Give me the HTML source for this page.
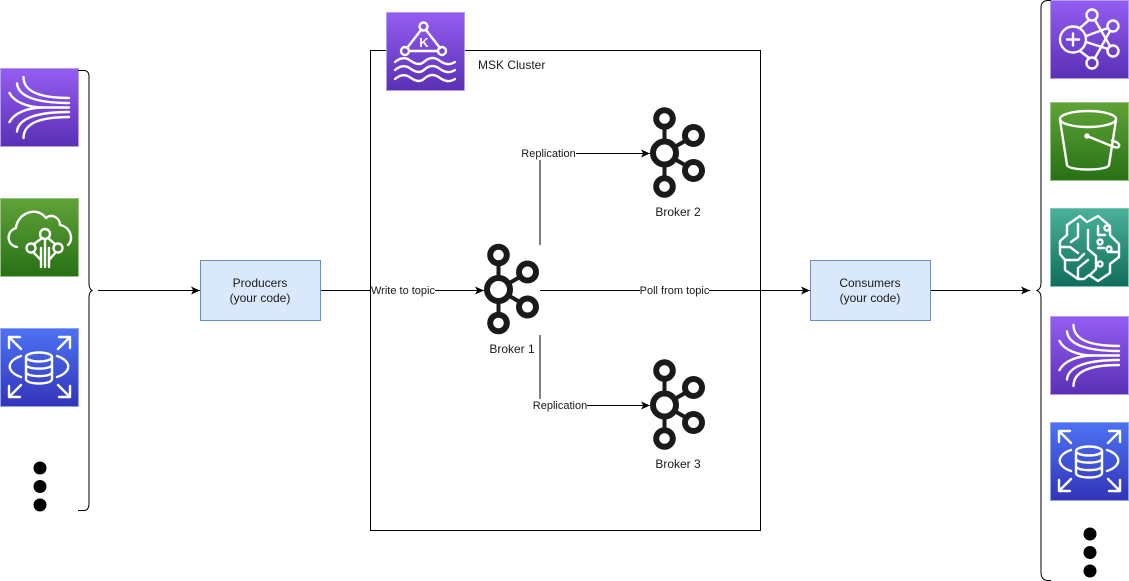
<!DOCTYPE html>
<html><head><meta charset="utf-8"><title>MSK architecture</title>
<style>
html,body{margin:0;padding:0;background:#fff}
svg{display:block}
text{font-family:"Liberation Sans",Arial,sans-serif;fill:#1a1a1a}
.i{fill:none;stroke:#fff;stroke-width:2.400;stroke-linecap:round;stroke-linejoin:round}
.c{fill:none;stroke:#000;stroke-width:1}
</style></head><body>
<svg width="1129" height="581" viewBox="0 0 1129 581" xmlns="http://www.w3.org/2000/svg">
<defs>
<linearGradient id="p" x1="0" y1="0" x2="0" y2="1"><stop offset="0" stop-color="#945df2"/><stop offset="1" stop-color="#5a30b5"/></linearGradient>
<linearGradient id="g" x1="0" y1="0" x2="0" y2="1"><stop offset="0" stop-color="#60a337"/><stop offset="1" stop-color="#277116"/></linearGradient>
<linearGradient id="t" x1="0" y1="0" x2="0" y2="1"><stop offset="0" stop-color="#4ab29a"/><stop offset="1" stop-color="#116d5b"/></linearGradient>
<linearGradient id="b" x1="0" y1="0" x2="0" y2="1"><stop offset="0" stop-color="#4d72f3"/><stop offset="1" stop-color="#3334b9"/></linearGradient>
<marker id="a" markerWidth="10" markerHeight="8" refX="9" refY="4" orient="auto" markerUnits="userSpaceOnUse"><path d="M0 0L9 4L0 8L2.200 4Z" fill="#000"/></marker>

<g id="kin">
<rect x=".5" y=".5" width="78" height="78" fill="url(#p)" stroke="#b49cf0"/>
<g class="i">
<path d="M23.500 9C23.500 22 36 30 69 30"/><path d="M17 15.500C18 27 33 35 69 35"/><path d="M9.500 25C14 34 28 39.500 43 39.500H69"/>
<path d="M23.500 70C23.500 57 36 49 69 49"/><path d="M17 63.500C18 52 33 44 69 44"/><path d="M9.500 54C14 45 28 39.500 43 39.500"/>
</g></g>

<g id="rds">
<rect x=".5" y=".5" width="78" height="78" fill="url(#b)" stroke="#8fa4f5"/>
<g class="i">
<ellipse cx="39" cy="29" rx="13" ry="4.500"/>
<path d="M26 29V51C26 57 52 57 52 51V29"/><path d="M26 36.500C26 42 52 42 52 36.500"/><path d="M26 44C26 49.500 52 49.500 52 44"/>
<path d="M21 28C6 33 6 44 21 49"/><path d="M57 28C72 33 72 44 57 49"/>
<path d="M21 21L9 9M9 20V9H20"/><path d="M58 21L70 9M59 9H70V20"/>
<path d="M21 57L9 69M9 58V69H20"/><path d="M58 57L70 69M70 58V69H59"/>
</g></g>

<g id="kaf" fill="none" stroke="#1a1a1a">
<g stroke-width="4"><path d="M0 -26V26M10 -6L24 -14M10 6L24 14"/></g>
<g stroke-width="6" fill="#fff">
<circle cx="0" cy="0" r="11.500"/><circle cx="0" cy="-34.500" r="8.300"/><circle cx="0" cy="33.500" r="8.300"/><circle cx="29" cy="-17.500" r="8.500"/><circle cx="29" cy="17.500" r="8.500"/>
</g></g>

<g id="dots" fill="#000"><circle cx="0" cy="0" r="6.500"/><circle cx="0" cy="18.500" r="6.500"/><circle cx="0" cy="37" r="6.500"/></g>
</defs>

<!-- cluster -->
<rect x="370.500" y="50.500" width="390" height="480" fill="#fff" stroke="#000"/>

<!-- left column -->
<use href="#kin" x="0" y="68"/>
<g transform="translate(0,198)">
<rect x=".5" y=".5" width="78" height="78" fill="url(#g)" stroke="#98c283"/>
<g class="i">
<path d="M17 49C6 47 6 33 16 30C17 16 36 7 46 20C52 15 60 20 60 27C71 29 74 42 68 47"/>
<path d="M42 40L34 46M48 40L55 46M33 54L41 62M56 54L49 62"/>
<circle cx="45" cy="36" r="5"/><circle cx="31" cy="50" r="4.500"/><circle cx="58" cy="50" r="4.500"/>
<path d="M45 41V69M41 50V69M49 50V69"/>
</g></g>
<use href="#rds" x="0" y="328"/>
<use href="#dots" x="40" y="468"/>
<path class="c" d="M78 70.500H84Q89 70.500 89 77V283Q89 289 92 290.500Q89 292 89 298V503Q89 510.500 84 510.500H78"/>

<!-- MSK icon -->
<g transform="translate(386,12)">
<rect x=".5" y=".5" width="78" height="78" fill="url(#p)" stroke="#b49cf0"/>
<g class="i">
<path d="M35 18L21 36M40 18L54 36M24 39H52"/>
<circle cx="37.500" cy="14.500" r="4"/><circle cx="19" cy="39" r="4"/><circle cx="56" cy="39" r="4"/>
<path d="M9 50C15 45 20 45 25 49C31 53 35 53 39 49C44 45 49 45 54 49C60 53 64 53 69 50"/>
<path d="M9 58C15 53 20 53 25 57C31 61 35 61 39 57C44 53 49 53 54 57C60 61 64 61 69 58"/>
<path d="M9 67C15 62 20 62 25 66C31 70 35 70 39 66C44 62 49 62 54 66C60 70 64 70 69 67"/>
</g>
<text x="38" y="35" text-anchor="middle" font-size="13" font-weight="bold" style="fill:#fff">K</text>
</g>
<text x="478" y="69" font-size="12">MSK Cluster</text>

<!-- brokers -->
<use href="#kaf" x="498.500" y="289.500"/>
<use href="#kaf" x="664.500" y="153"/>
<use href="#kaf" x="664.500" y="405"/>
<text x="512" y="353" font-size="12" text-anchor="middle">Broker 1</text>
<text x="678" y="216" font-size="12" text-anchor="middle">Broker 2</text>
<text x="678" y="468" font-size="12" text-anchor="middle">Broker 3</text>

<!-- connectors -->
<path class="c" d="M98 290.500H200" marker-end="url(#a)"/>
<path class="c" d="M320 290.500H484" marker-end="url(#a)"/>
<path class="c" d="M540 290.500H810" marker-end="url(#a)"/>
<path class="c" d="M930 290.500H1030" marker-end="url(#a)"/>
<path class="c" d="M540 245V153.500H650" marker-end="url(#a)"/>
<path class="c" d="M540 335V405.500H650" marker-end="url(#a)"/>

<!-- boxes -->
<rect x="200.500" y="260.500" width="120" height="60" fill="#dae8fc" stroke="#6c8ebf"/>
<text x="260" y="287" font-size="12" text-anchor="middle">Producers</text>
<text x="260" y="302" font-size="12" text-anchor="middle">(your code)</text>
<rect x="810.500" y="260.500" width="120" height="60" fill="#dae8fc" stroke="#6c8ebf"/>
<text x="870" y="287" font-size="12" text-anchor="middle">Consumers</text>
<text x="870" y="302" font-size="12" text-anchor="middle">(your code)</text>

<!-- connector labels -->
<rect x="371" y="284" width="64" height="13" fill="#fff"/>
<text x="403" y="294" font-size="11" text-anchor="middle">Write to topic</text>
<rect x="640" y="284" width="69" height="13" fill="#fff"/>
<text x="674.500" y="294" font-size="11" text-anchor="middle">Poll from topic</text>
<rect x="521" y="147" width="55" height="13" fill="#fff"/>
<text x="548.500" y="157" font-size="11" text-anchor="middle">Replication</text>
<rect x="533" y="399" width="54" height="13" fill="#fff"/>
<text x="560" y="409" font-size="11" text-anchor="middle">Replication</text>

<!-- right column -->
<g transform="translate(1050,0)">
<rect x=".5" y=".5" width="78" height="78" fill="url(#p)" stroke="#b49cf0"/>
<g class="i">
<circle cx="23" cy="39.500" r="13"/><path d="M17 39.500H29M23 33.500V45.500"/>
<circle cx="42" cy="15" r="5.500"/><circle cx="63" cy="26" r="5.500"/><circle cx="63" cy="51" r="5.500"/><circle cx="42" cy="63" r="5.500"/>
<path d="M30 28L39 20M36 36L58 28M36 42L58 49M30 51L39 58M45 20L60 46M45 58L60 31"/>
</g></g>
<g transform="translate(1050,102)">
<rect x=".5" y=".5" width="78" height="78" fill="url(#g)" stroke="#98c283"/>
<g class="i">
<ellipse cx="38" cy="17" rx="28" ry="8"/>
<path d="M10 18L17 63C18 69 58 69 59 63L66 18"/>
<circle cx="37" cy="34" r="1.500"/><path d="M37 34L64 45C70 47 71 42 66 40L62 38.500"/>
</g></g>
<g transform="translate(1050,208)">
<rect x=".5" y=".5" width="78" height="78" fill="url(#t)" stroke="#7fc7b5"/>
<g class="i">
<path d="M37 14L30 8L17 17V27L10 33V46L15 52V62L28 71H34L39 67L48 73L60 65V56L69 49V36L60 27V18L48 8L39 13"/>
<path d="M28 16V29L21 34M38 22V41M10 39H20L28 45M16 52H28L34 46M28 71V60L38 52M38 41L46 48V61L40 67"/>
<path d="M48 18V27H55M48 40H54M58 44L68 44"/>
<circle cx="57" cy="20" r="2.500"/><circle cx="50" cy="34" r="2.500"/><circle cx="59" cy="41" r="2.500"/><circle cx="50" cy="56" r="2.500"/>
</g></g>
<use href="#kin" x="1050" y="316"/>
<use href="#rds" x="1050" y="422"/>
<use href="#dots" x="1090" y="534"/>
<path class="c" d="M1051 .5H1048Q1041 .5 1041 8V283Q1041 289 1037 290.500Q1041 292 1041 298V572Q1041 580.500 1048 580.500H1051"/>
</svg>
</body></html>
